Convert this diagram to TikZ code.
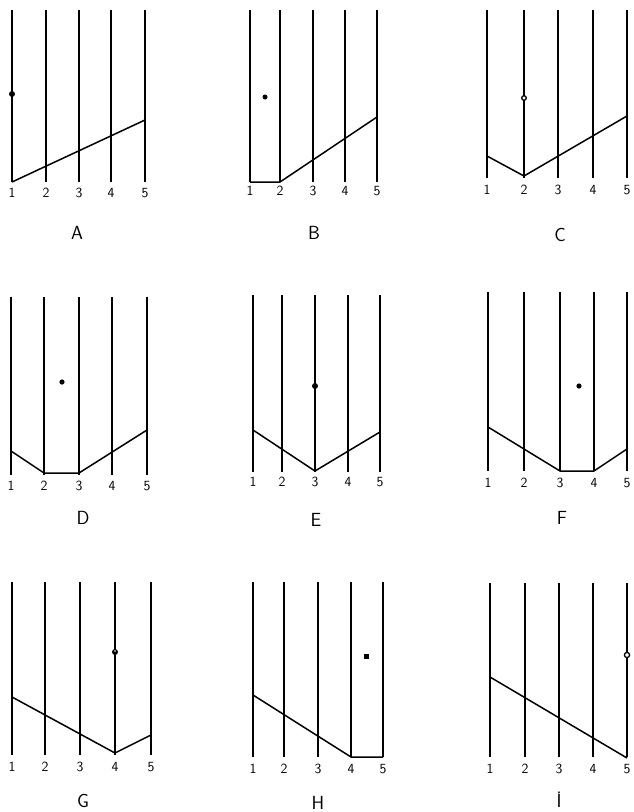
\documentclass[tikz,border=0pt]{standalone}
\begin{document}
\begin{tikzpicture}[x=1pt,y=-1pt,
  wire/.style={line width=1.3pt},
  kinked/.style={line width=1.5pt, line join=round},
  num/.style={font=\sffamily\fontsize{14}{14}\selectfont, inner sep=0pt},
  letter/.style={font=\sffamily\fontsize{19}{19}\selectfont, inner sep=0pt},
  ring/.style={draw, fill=white, line width=1.3pt}]
\useasboundingbox (0,0) rectangle (633,812);
% ---- A
\foreach \x/\n in {12/1,46/2,79/3,111/4,145/5}{
  \draw[wire] (\x,10) -- (\x,182); \node[num] (A\n) at (\x,193) {\n};}
\draw[kinked] (12,182) -- (145,120);
\fill (12,94) circle (3);
\node[letter] (labA) at (77,233) {A};
% ---- B
\foreach \x/\n in {250/1,280/2,313/3,345/4,377/5}{
  \draw[wire] (\x,10) -- (\x,182); \node[num] (B\n) at (\x,191) {\n};}
\draw[kinked] (250,182) -- (280,182) -- (377,117);
\fill (265,97) circle (2.5);
\node[letter] (labB) at (314,233) {B};
% ---- C
\foreach \x/\n in {487/1,524/2,558/3,593/4,627/5}{
  \draw[wire] (\x,10) -- (\x,178); \node[num] (C\n) at (\x,190) {\n};}
\draw[kinked] (487,156) -- (524,176) -- (627,116);
\draw[ring] (524,98) circle (2.3);
\node[letter] (labC) at (560,235) {C};
% ---- D
\foreach \x/\n in {11/1,44/2,79/3,112/4,147/5}{
  \draw[wire] (\x,297) -- (\x,475); \node[num] (D\n) at (\x,486) {\n};}
\draw[kinked] (11,451) -- (44,473) -- (79,473) -- (147,430);
\fill (62,382) circle (2.6);
\node[letter] (labD) at (83,518) {D};
% ---- E
\foreach \x/\n in {253/1,282/2,315/3,348/4,380/5}{
  \draw[wire] (\x,295) -- (\x,472); \node[num] (E\n) at (\x,482) {\n};}
\draw[kinked] (253,430) -- (315,471) -- (380,432);
\fill (315,386) circle (3);
\node[letter] (labE) at (316,520) {E};
% ---- F
\foreach \x/\n in {488/1,524/2,560/3,594/4,627/5}{
  \draw[wire] (\x,292) -- (\x,471); \node[num] (F\n) at (\x,483) {\n};}
\draw[kinked] (488,427) -- (560,471) -- (594,471) -- (627,449);
\fill (579,386) circle (2.6);
\node[letter] (labF) at (562,518) {F};
% ---- G
\foreach \x/\n in {12/1,45/2,80/3,115/4,151/5}{
  \draw[wire] (\x,582) -- (\x,755); \node[num] (G\n) at (\x,767) {\n};}
\draw[kinked] (12,697) -- (115,753) -- (151,735);
\fill (115,652) circle (3);
\fill[white] (115,651) circle (0.8);
\node[letter] (labG) at (83,801) {G};
% ---- H
\foreach \x/\n in {253/1,284/2,318/3,351/4,383/5}{
  \draw[wire] (\x,582) -- (\x,757); \node[num] (H\n) at (\x,769) {\n};}
\draw[kinked] (253,695) -- (351,757) -- (383,757);
\fill (363.5,653.5) rectangle (368.5,658.5);
\node[letter] (labH) at (318,803) {H};
% ---- I
\foreach \x/\n in {490/1,525/2,559/3,593/4,627/5}{
  \draw[wire] (\x,583) -- (\x,757); \node[num] (I\n) at (\x,769) {\n};}
\draw[kinked] (490,677) -- (627,758);
\draw[ring] (627,655) circle (2.6);
\node[letter] (labI) at (559,800) {\.I};
\end{tikzpicture}
\end{document}
